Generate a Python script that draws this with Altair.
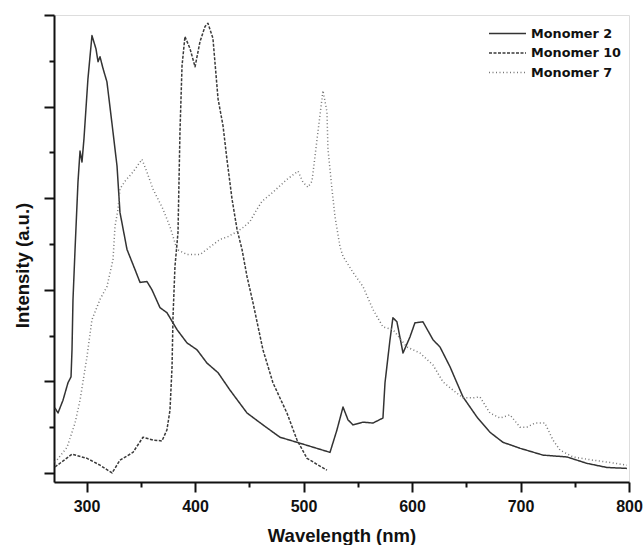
import altair as alt
import pandas as pd

# ---- data ----
series_names = ["Monomer 2", "Monomer 10", "Monomer 7"]

m2_wl = [270.9, 273.7, 278.3, 282.9, 285.7, 286.6, 287.5, 289.4, 292.1, 294.0, 295.8, 297.6,
         301.3, 305.0, 308.7, 310.6, 312.4, 315.2, 318.8, 323.5, 328.1, 330.8, 337.3, 344.7,
         349.3, 355.7, 360.3, 367.7, 374.1, 383.4, 392.6, 401.8, 411.0, 421.2, 432.2, 447.9,
         462.6, 478.3, 494.0, 524.4, 530.8, 536.4, 541.0, 545.6, 554.8, 564.0, 573.2, 575.1,
         579.7, 582.4, 586.1, 591.7, 598.1, 602.7, 610.1, 619.3, 625.8, 635.0, 647.0, 659.9,
         671.8, 683.8, 699.5, 720.7, 742.8, 761.2, 779.7, 798.1]
m2_int = [1.42, 1.31, 1.59, 1.97, 2.10, 2.69, 3.78, 4.88, 6.35, 7.03, 6.79, 7.29,
          8.61, 9.55, 9.26, 8.98, 9.09, 8.83, 8.54, 7.62, 6.70, 5.69, 4.88, 4.44,
          4.16, 4.18, 4.00, 3.61, 3.50, 3.13, 2.84, 2.69, 2.40, 2.19, 1.81, 1.31,
          1.05, 0.78, 0.67, 0.45, 0.94, 1.44, 1.16, 1.05, 1.11, 1.09, 1.20, 1.97,
          2.91, 3.39, 3.30, 2.62, 2.97, 3.28, 3.30, 2.91, 2.75, 2.32, 1.66, 1.22,
          0.89, 0.67, 0.54, 0.39, 0.35, 0.21, 0.12, 0.10]

m10_wl = [270.9, 286.6, 300.4, 312.4, 323.5, 330.8, 342.8, 352.0, 361.2, 369.5, 374.1, 376.9,
          378.8, 379.7, 381.5, 384.3, 386.1, 388.0, 390.7, 395.3, 400.0, 404.6, 409.2, 411.9,
          416.5, 421.2, 425.8, 429.4, 434.1, 438.7, 443.3, 447.9, 453.4, 462.6, 471.8, 484.7,
          494.0, 503.2, 521.6]
m10_int = [0.13, 0.41, 0.32, 0.17, 0.00, 0.28, 0.45, 0.78, 0.72, 0.70, 0.94, 1.37,
           2.32, 3.41, 4.51, 5.25, 7.44, 8.89, 9.53, 9.27, 8.87, 9.42, 9.75, 9.82,
           9.49, 8.17, 7.58, 6.85, 5.98, 5.32, 4.88, 4.29, 3.72, 2.69, 1.97, 1.31,
           0.72, 0.32, 0.06]

m7_wl = [270.9, 282.0, 289.4, 294.0, 300.4, 305.0, 312.4, 318.8, 324.4, 326.2, 329.0, 330.8,
         335.4, 342.8, 351.1, 355.7, 361.2, 370.5, 376.9, 383.4, 392.6, 404.6, 423.0, 430.4,
         438.7, 444.2, 450.6, 457.1, 461.7, 471.8, 484.7, 494.9, 499.5, 504.1, 507.8, 510.6,
         513.3, 517.0, 517.9, 521.6, 522.5, 526.2, 529.0, 533.6, 536.4, 545.6, 554.8, 564.0,
         573.2, 582.4, 595.3, 607.3, 619.3, 628.5, 637.7, 647.0, 656.2, 662.6, 671.8, 681.1,
         690.3, 699.5, 705.9, 713.3, 722.5, 729.9, 736.4, 748.4, 766.8, 782.4, 798.1]
m7_int = [0.23, 0.56, 1.09, 1.59, 2.54, 3.35, 3.79, 4.07, 4.66, 5.38, 5.76, 6.20,
          6.37, 6.57, 6.85, 6.57, 6.20, 5.76, 5.38, 4.88, 4.77, 4.77, 5.10, 5.16,
          5.27, 5.36, 5.49, 5.76, 5.93, 6.13, 6.41, 6.59, 6.35, 6.24, 6.37, 6.92,
          7.45, 8.17, 8.35, 7.89, 7.08, 6.20, 5.60, 4.94, 4.73, 4.38, 4.07, 3.57,
          3.19, 3.13, 2.75, 2.62, 2.36, 1.99, 1.81, 1.64, 1.64, 1.66, 1.31, 1.20,
          1.27, 1.00, 1.00, 1.09, 1.09, 0.72, 0.50, 0.35, 0.28, 0.23, 0.17]

x_ticks = [300, 350, 400, 450, 500, 550, 600, 650, 700, 750, 800]
y_ticks = [0, 1, 2, 3, 4, 5, 6, 7, 8, 9, 10]

frames = []
for name, wl, it in [("Monomer 2", m2_wl, m2_int),
                     ("Monomer 10", m10_wl, m10_int),
                     ("Monomer 7", m7_wl, m7_int)]:
    frames.append(pd.DataFrame({"wl": wl, "val": it, "series": name,
                                "order": list(range(len(wl)))}))
df = pd.concat(frames, ignore_index=True)

FONT = "Liberation Sans"

legend_cfg = dict(orient="none", legendX=445, legendY=10, title=None,
                  symbolType="M-2.5,0H2.5", symbolSize=219,
                  symbolStrokeWidth=1.3, padding=0,
                  labelFont="DejaVu Sans", labelFontSize=12.8,
                  labelFontWeight="bold", labelColor="#111",
                  labelOffset=15, rowPadding=3.5)

chart = alt.Chart(df).mark_line(strokeWidth=1.5, strokeJoin="round").encode(
    x=alt.X("wl:Q",
            scale=alt.Scale(domain=[270, 800], nice=False, zero=False),
            axis=alt.Axis(title="Wavelength (nm)", values=x_ticks,
                          labelExpr="datum.value % 100 === 0 ? datum.label : ''",
                          tickSize={"condition": {"test": "datum.value % 100 === 0", "value": 10},
                                    "value": 5},
                          labelBaseline="alphabetic", labelPadding=19,
                          labelFont=FONT, labelFontSize=16, labelFontWeight="bold",
                          labelColor="#111", labelFlush=False,
                          titleFont=FONT, titleFontSize=18.5, titleFontWeight="bold",
                          titleColor="#111", titleX=287.5, titleY=59,
                          titleBaseline="alphabetic",
                          domainColor="#111", domainWidth=2, tickColor="#111",
                          tickWidth=2, grid=False)),
    y=alt.Y("val:Q",
            scale=alt.Scale(domain=[-0.197, 10], nice=False, zero=False),
            axis=alt.Axis(title="Intensity (a.u.)", values=y_ticks, labels=False,
                          tickSize={"condition": {"test": "datum.value % 2 === 0", "value": 10},
                                    "value": 5},
                          titleFont=FONT, titleFontSize=18.5, titleFontWeight="bold",
                          titleColor="#111", titleAngle=-90, titleX=-26, titleY=250,
                          titleBaseline="alphabetic", titleAlign="center",
                          domainColor="#111", domainWidth=2, tickColor="#111",
                          tickWidth=2, grid=False)),
    color=alt.Color("series:N",
                    scale=alt.Scale(domain=series_names, range=["#333333", "#3a3a3a", "#777777"]),
                    legend=alt.Legend(**legend_cfg)),
    strokeDash=alt.StrokeDash("series:N",
                              scale=alt.Scale(domain=series_names,
                                              range=[[1, 0], [3, 1.5], [1, 2.5]]),
                              legend=alt.Legend(**legend_cfg)),
    order="order:Q",
).properties(
    width=575, height=467,
    autosize=alt.AutoSizeParams(type="none"),
    padding={"left": 54, "top": 15, "right": 15, "bottom": 63},
).configure_view(
    stroke="#555", strokeWidth=2
).configure(background="white")

chart.save("out.html", embed_options={"renderer": "svg", "actions": False})
